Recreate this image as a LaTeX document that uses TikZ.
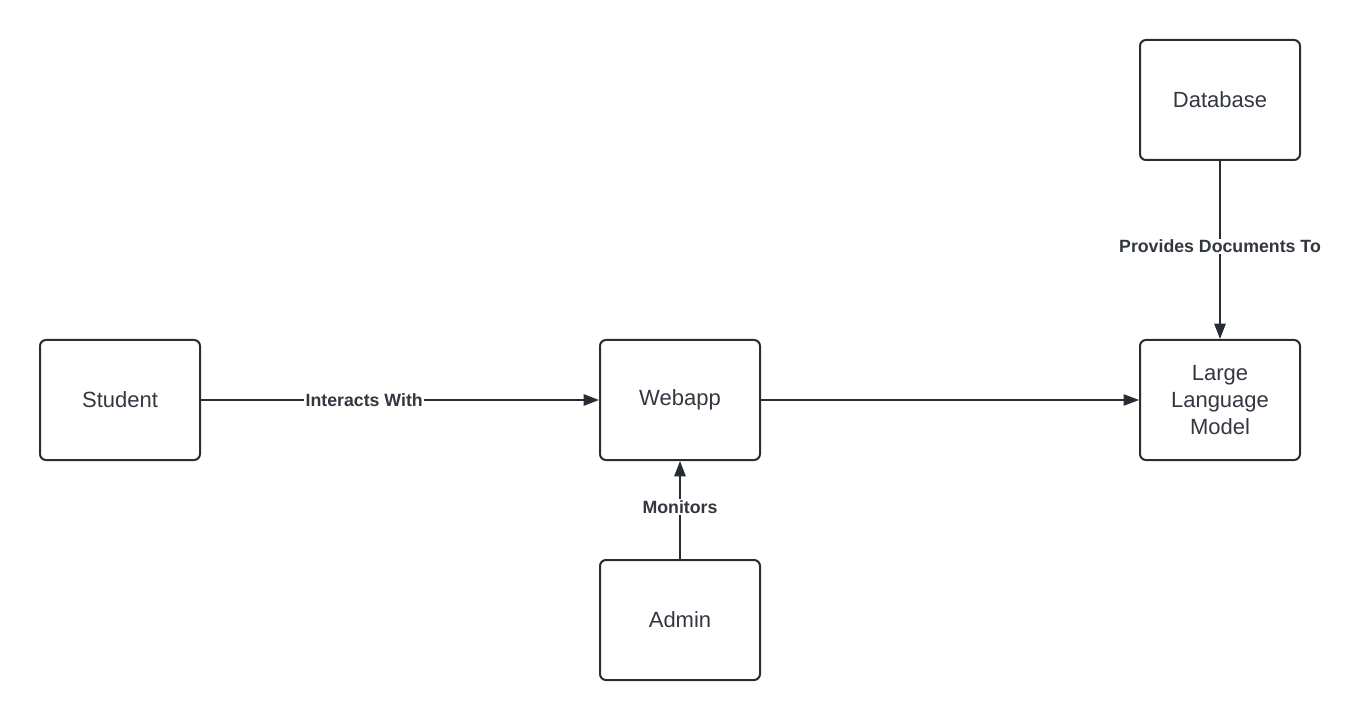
\documentclass[tikz,border=0pt]{standalone}
\usepackage{fontspec}
\setmainfont{Liberation Sans}
\usetikzlibrary{arrows.meta}
\usetikzlibrary{positioning}

\definecolor{linegray}{HTML}{282C33}
\definecolor{textgray}{HTML}{333740}

\begin{document}
\begin{tikzpicture}[x=0.75pt, y=-0.75pt,
    every node/.style={text=textgray},
    entity/.style={draw=linegray, line width=1.5pt, rounded corners=4.5pt, minimum width=120pt, minimum height=90pt, align=center, font=\fontsize{16.5}{20}\selectfont},
    flow/.style={draw=linegray, line width=1.3pt, -{Triangle[length=11.5pt, width=8.5pt]}},
    flowlabel/.style={fill=white, inner sep=1pt, font=\bfseries\fontsize{13.3}{16}\selectfont}]
        \useasboundingbox (0, 0) rectangle (1361, 720);

        \node[entity] (student) at (120, 400) {Student};

        \node[entity] (webapp) at (680, 400) {Webapp};

        \node[entity] (llm) at (1220, 400) {Large\\Language\\Model};

        \node[entity] (database) at (1220, 100) {Database};

        \node[entity] (admin) at (680, 620) {Admin};

        \draw[flow] (student) -- (webapp) node[flowlabel, pos=0.41] {Interacts With};
        \draw[flow] (admin) -- (webapp) node[flowlabel, pos=0.53] {Monitors};
        \draw[flow] (database) -- (llm) node[flowlabel, pos=0.48] {Provides Documents To};
        \draw[flow, line width=0.8pt] (webapp) -- (llm);
      \end{tikzpicture}
\end{document}
